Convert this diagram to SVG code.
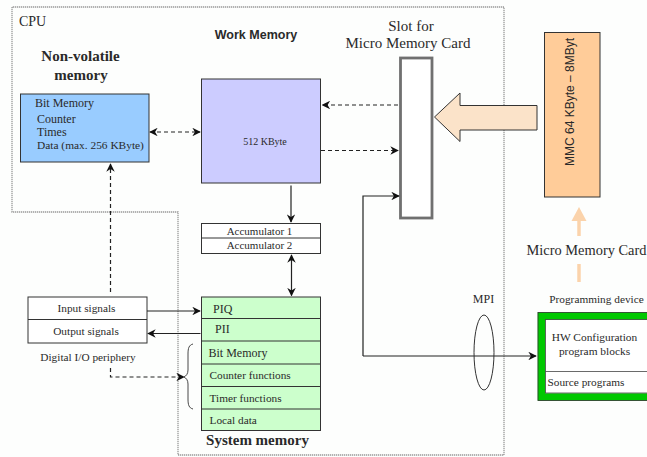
<svg xmlns="http://www.w3.org/2000/svg" width="647" height="457" viewBox="0 0 647 457" font-size="11.300">
<style>
text{font-family:"Liberation Serif",serif;fill:#2a2a2a}
.c{text-anchor:middle}
.b{font-weight:bold}
.s{font-family:"Liberation Sans",sans-serif}
.box{stroke:#333;stroke-width:1}
.ln{fill:none;stroke:#222;stroke-width:1.2}
.da{fill:none;stroke:#222;stroke-width:1.2;stroke-dasharray:4 3}
.dot{fill:none;stroke:#999;stroke-width:1.3;stroke-dasharray:1.3 .7}
</style>
<defs>
<marker id="e" viewBox="0 0 10 10" refX="9" refY="5" markerWidth="8.5" markerHeight="8.5" markerUnits="userSpaceOnUse" orient="auto-start-reverse"><path d="M0 0L10 5L0 10L3 5Z" fill="#111"/></marker>
</defs>
<rect width="647" height="457" fill="#fdfefd"/>
<path id="cpu-boundary" class="dot" d="M504 7H12V212H178V455H504Z"/>
<g id="labels">
<text x="19" y="26" font-size="14">CPU</text>
<text x="256" y="38.500" class="c b s" font-size="12.500">Work Memory</text>
<text x="80.500" y="61" class="c b" font-size="15">Non-volatile</text>
<text x="81" y="80" class="c b" font-size="15">memory</text>
<text x="411" y="31" class="c" font-size="15">Slot for</text>
<text x="408" y="48" class="c" font-size="15">Micro Memory Card</text>
<text x="586.500" y="255" class="c" font-size="14.400">Micro Memory Card</text>
<text x="483.500" y="303" class="c" font-size="12">MPI</text>
<text x="596.500" y="303" class="c">Programming device</text>
<text x="88" y="361" class="c">Digital I/O periphery</text>
<text x="257.500" y="445" class="c b" font-size="15">System memory</text>
</g>
<g id="non-volatile-memory">
<rect class="box" x="20.500" y="94" width="128.500" height="68" fill="#99ccff"/>
<text x="35" y="107" font-size="12">Bit Memory</text>
<text x="37" y="123" font-size="12">Counter</text>
<text x="37" y="136" font-size="12">Times</text>
<text x="37" y="149" font-size="11.400">Data (max. 256 KByte)</text>
</g>
<g id="work-memory">
<rect class="box" x="201.500" y="79" width="119" height="104" fill="#ccccff"/>
<text x="265" y="145" class="c" font-size="10">512 KByte</text>
</g>
<g id="accumulators">
<rect class="box" x="201.500" y="223.500" width="119" height="30" fill="#fff"/>
<path class="box" d="M201.500 238H320.500"/>
<text x="259.500" y="235" class="c" font-size="11">Accumulator 1</text>
<text x="259.500" y="248.500" class="c" font-size="11">Accumulator 2</text>
</g>
<g id="system-memory">
<rect class="box" x="201.500" y="297" width="119" height="133.500" fill="#ccffcc"/>
<path class="box" d="M201.500 318.500H320.500M201.500 341H320.500M201.500 364H320.500M201.500 386.500H320.500M201.500 409H320.500"/>
<text x="213" y="313" font-size="12">PIQ</text>
<text x="215" y="333" font-size="12">PII</text>
<text x="208.500" y="357" font-size="12">Bit Memory</text>
<text x="209.500" y="379">Counter functions</text>
<text x="209.500" y="401.500">Timer functions</text>
<text x="209.500" y="424">Local data</text>
</g>
<g id="digital-io">
<rect class="box" x="28" y="297" width="119" height="46" fill="#fff"/>
<path class="box" d="M28 319.500H147"/>
<text x="86.500" y="312" class="c">Input signals</text>
<text x="86" y="335" class="c">Output signals</text>
</g>
<g id="slot">
<rect x="400.500" y="58" width="31.500" height="160" fill="#fff" stroke="#707070" stroke-width="2.800"/>
</g>
<g id="mmc">
<rect class="box" x="544.500" y="32.500" width="55.500" height="164.500" fill="#ffcc99"/>
<text transform="translate(574 102) rotate(-90)" class="c s" font-size="12">MMC 64  KByte – 8MByt</text>
</g>
<g id="programming-device">
<rect x="541.500" y="316" width="125" height="81" fill="#fff" stroke="#00c800" stroke-width="7.500"/>
<rect x="538" y="312.500" width="125" height="88" fill="none" stroke="#333" stroke-width=".8"/>
<rect x="545.500" y="319.500" width="125" height="73.500" fill="none" stroke="#444" stroke-width=".8"/>
<path d="M545.500 371.500H647" stroke="#444" stroke-width=".8"/>
<text x="594.500" y="341" class="c" font-size="11.400">HW Configuration</text>
<text x="594.500" y="355" class="c" font-size="11.400">program blocks</text>
<text x="547.500" y="386">Source programs</text>
</g>
<g id="connectors">
<path d="M537 105.500H460V93L434.500 117L460 141.500V130H537Z" fill="#fbe3c9" stroke="#333"/>
<path d="M579 236V219" fill="none" stroke="#fbd3ab" stroke-width="3.500"/>
<path d="M579 207L571.500 221H586.500Z" fill="#fbd3ab"/>
<path d="M579 264V282" fill="none" stroke="#fbd3ab" stroke-width="3.500"/>
<path class="da" d="M150 132H200" marker-start="url(#e)" marker-end="url(#e)"/>
<path class="da" d="M398 105H322.500" marker-end="url(#e)"/>
<path class="da" d="M321 150.500H398" marker-end="url(#e)"/>
<path class="da" d="M110.500 292V164" marker-end="url(#e)"/>
<path class="da" d="M110.500 368V377H184" marker-end="url(#e)"/>
<path class="ln" d="M291 185.500V222" marker-end="url(#e)"/>
<path class="ln" d="M291.500 255V295.500" marker-start="url(#e)" marker-end="url(#e)"/>
<path class="ln" d="M147 311H200" marker-end="url(#e)"/>
<path class="ln" d="M200.500 333.500H148" marker-end="url(#e)"/>
<path class="ln" d="M363 356V196H399" marker-end="url(#e)"/>
<path class="ln" d="M363 356H536" marker-end="url(#e)"/>
<ellipse cx="484" cy="352.500" rx="10" ry="37.500" fill="none" stroke="#333"/>
<path d="M193 344C189 345 188 348 188 354V370C188 374 186 376 184 377C186 378 188 380 188 384V399C188 405 189 408 193 409" fill="none" stroke="#333" stroke-width=".9"/>
</g>
</svg>
